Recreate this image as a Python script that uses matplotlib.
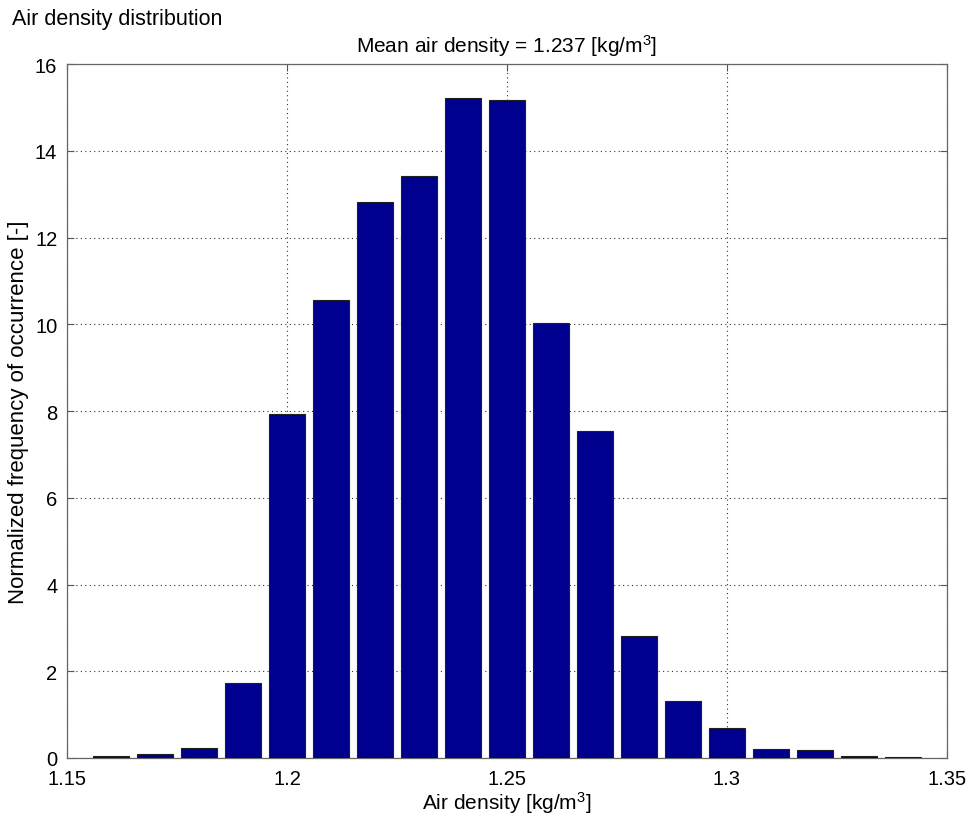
import matplotlib
matplotlib.use("Agg")
import matplotlib.pyplot as plt

plt.rcParams['font.family'] = ['Liberation Sans', 'DejaVu Sans']
plt.rcParams['mathtext.default'] = 'regular'

# Histogram bin centres (air density, kg/m^3) and normalized frequencies
bin_centers = [1.16, 1.17, 1.18, 1.19, 1.20, 1.21, 1.22, 1.23, 1.24, 1.25,
               1.26, 1.27, 1.28, 1.29, 1.30, 1.31, 1.32, 1.33, 1.34]
frequency = [0.04, 0.09, 0.23, 1.73, 7.93, 10.57, 12.81, 13.42, 15.21, 15.16,
             10.02, 7.55, 2.82, 1.32, 0.69, 0.21, 0.18, 0.05, 0.02]
mean_density = 1.237
x_ticks = [1.15, 1.2, 1.25, 1.3, 1.35]
y_ticks = [0, 2, 4, 6, 8, 10, 12, 14, 16]

fig = plt.figure(figsize=(9.67, 8.2), dpi=100)
ax = fig.add_axes([0.0693, 0.0744, 0.9100, 0.8463])

ax.bar(bin_centers, frequency, width=0.008, color='#00008F',
       edgecolor='#202020', linewidth=0.8, zorder=3)

ax.set_xlim(1.15, 1.35)
ax.set_ylim(0, 16)
ax.set_xticks(x_ticks)
ax.set_xticklabels([f"{t:g}" for t in x_ticks])
ax.set_yticks(y_ticks)
ax.grid(True, linestyle=(0, (1, 3)), color='#333333', linewidth=0.8, zorder=0)
ax.set_axisbelow(True)
ax.tick_params(direction='in', top=True, right=True, length=5, width=0.8,
               labelsize=14.5, color='#555555')
ax.tick_params(axis='x', pad=8)
ax.tick_params(axis='y', pad=7)
for s in ax.spines.values():
    s.set_color('#666666')
    s.set_linewidth(0.9)

ax.set_xlabel('Air density [kg/m$^3$]', fontsize=15, labelpad=1)
ax.set_ylabel('Normalized frequency of occurrence [-]', fontsize=16, labelpad=4)
ax.set_title(f'Mean air density = {mean_density:.3f} [kg/m$^3$]', fontsize=15, pad=9)

fig.text(0.012, 0.976, 'Air density distribution', fontsize=15.5, ha='left', va='center')

fig.savefig('out.png', dpi=100, facecolor='white')
